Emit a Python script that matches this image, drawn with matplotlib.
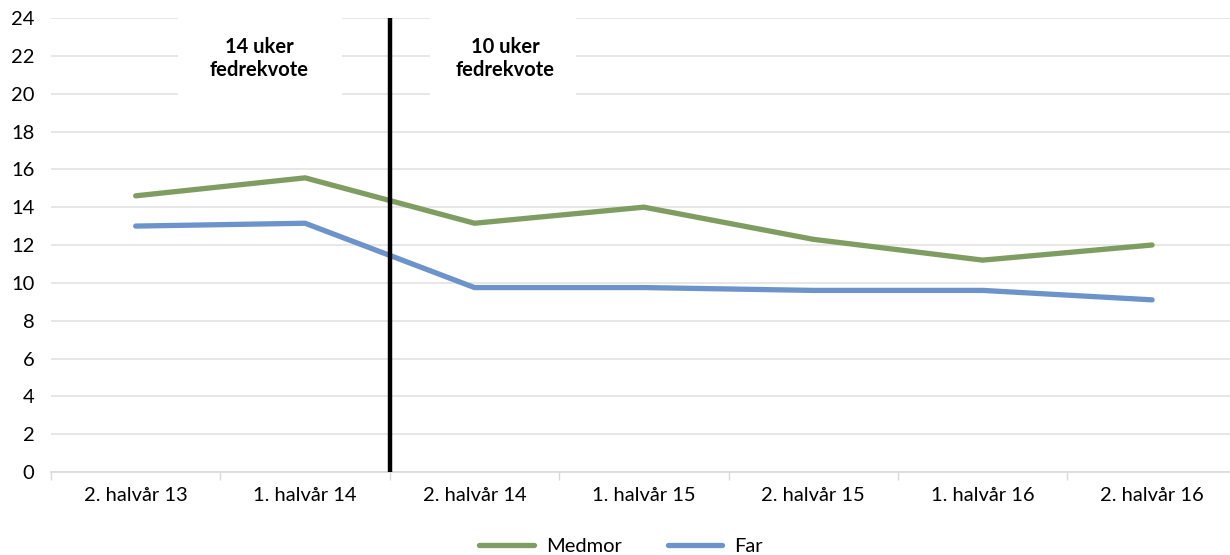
import matplotlib
matplotlib.use("Agg")
import matplotlib.pyplot as plt
from matplotlib.patches import Rectangle

categories = ["2. halvår 13", "1. halvår 14", "2. halvår 14", "1. halvår 15",
              "2. halvår 15", "1. halvår 16", "2. halvår 16"]
medmor = [14.6, 15.55, 13.15, 14.0, 12.3, 11.2, 12.0]
far = [13.0, 13.15, 9.75, 9.75, 9.6, 9.6, 9.1]
box_labels = ["14 uker\nfedrekvote", "10 uker\nfedrekvote"]

plt.rcParams["font.family"] = ["Lato", "DejaVu Sans"]
fs = 14.5

fig = plt.figure(figsize=(12.3, 5.55), dpi=100)
ax = fig.add_axes([51 / 1230, 83 / 555, 7 * 169.4 / 1230, 454 / 555])

x = list(range(len(categories)))
ax.plot(x, medmor, color="#7F9C61", lw=3.8, label="Medmor", zorder=3,
        solid_capstyle="round")
ax.plot(x, far, color="#6D93CB", lw=3.8, label="Far", zorder=3,
        solid_capstyle="round")

ax.set_xlim(-0.5, 6.5)
ax.set_ylim(0, 24)
ax.set_yticks(range(0, 25, 2))
ax.set_xticks(x)
ax.set_xticklabels(categories)
ax.set_xticks([i - 0.5 for i in range(8)], minor=True)
ax.tick_params(axis="x", which="major", length=0, pad=11, labelsize=fs)
ax.tick_params(axis="x", which="minor", length=6, color="#D9D9D9", width=1)
ax.tick_params(axis="y", length=0, pad=12, labelsize=fs)
ax.grid(axis="y", color="#E3E3E3", lw=1.2, zorder=0)
ax.set_axisbelow(True)
for s in ["top", "right", "left"]:
    ax.spines[s].set_visible(False)
ax.spines["bottom"].set_color("#D9D9D9")
ax.spines["bottom"].set_linewidth(1.2)

# white label boxes covering the grid
ax.add_patch(Rectangle((0.25, 19.0), 0.97, 5.5, facecolor="white",
                       edgecolor="none", zorder=1, clip_on=False))
ax.add_patch(Rectangle((1.74, 19.0), 0.86, 5.5, facecolor="white",
                       edgecolor="none", zorder=1, clip_on=False))
ax.text(0.73, 21.85, box_labels[0], ha="center", va="center", fontsize=fs,
        fontweight="bold", zorder=2, linespacing=1.15)
ax.text(2.18, 21.85, box_labels[1], ha="center", va="center", fontsize=fs,
        fontweight="bold", zorder=2, linespacing=1.15)

ax.plot([1.5, 1.5], [0, 24], color="black", lw=3.2, zorder=4)

fig.legend(loc="lower center", bbox_to_anchor=(0.505, -0.033), ncol=2,
           frameon=False, fontsize=fs, handlelength=2.7, columnspacing=2.3,
           handletextpad=0.6)

fig.savefig("out.png", dpi=100)
